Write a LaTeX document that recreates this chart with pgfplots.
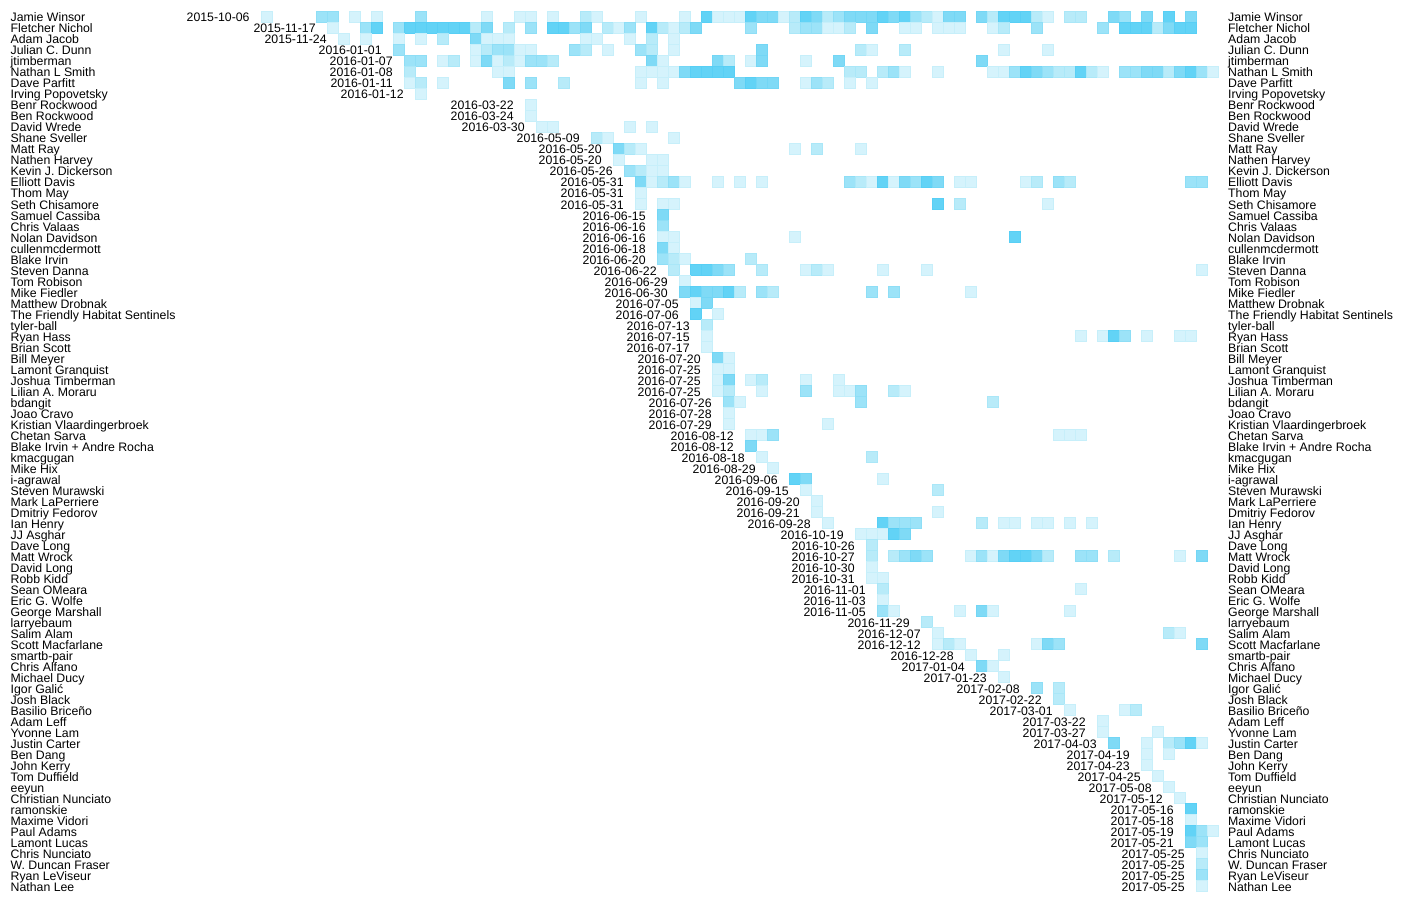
\documentclass[border=0pt]{standalone}
\usepackage{pgfplots}
\usepackage{pgfplotstable}
\pgfplotsset{compat=1.18}
\usepackage{fontspec}
\setmainfont{Liberation Sans}
\definecolor{c1}{HTML}{D5F3FC}\definecolor{b1}{HTML}{C7EFFA}
\definecolor{c2}{HTML}{B8EBF9}\definecolor{b2}{HTML}{AAE7F8}
\definecolor{c3}{HTML}{9CE3F8}\definecolor{b3}{HTML}{8EDEF6}
\definecolor{c4}{HTML}{7FDAF6}\definecolor{b4}{HTML}{73D6F5}
\definecolor{c5}{HTML}{62D3F6}\definecolor{b5}{HTML}{58CFF5}
\tikzset{lbl/.style={font=\fontsize{12.3}{14}\selectfont, inner sep=0pt, text=black}}
\newcommand\R[4]{%
  \node[lbl,anchor=base west] at (axis cs:-23.273,#1.5) {#3};
  \node[lbl,anchor=base west] at (axis cs:87.409,#1.5) {#3};
  \node[lbl,anchor=base east] at ([xshift=-16.7pt]axis cs:#2,#1.5) {#4};
}
\pgfplotstableread{
c r l
0 0 a
5 0 c
6 0 c
8 0 a
10 0 a
14 0 c
20 0 a
23 0 a
24 0 a
26 0 a
29 0 b
30 0 a
34 0 a
38 0 a
40 0 e
41 0 a
42 0 a
43 0 a
44 0 e
45 0 d
46 0 d
47 0 a
48 0 b
49 0 e
50 0 d
51 0 b
52 0 c
53 0 d
54 0 d
55 0 d
56 0 e
57 0 d
58 0 e
59 0 c
60 0 b
61 0 a
62 0 d
63 0 d
65 0 d
66 0 b
67 0 e
68 0 e
69 0 e
70 0 b
71 0 a
73 0 b
74 0 b
77 0 d
78 0 c
80 0 d
82 0 e
84 0 d
6 1 a
9 1 c
10 1 e
12 1 c
13 1 e
14 1 e
15 1 e
16 1 e
17 1 e
18 1 e
19 1 b
20 1 d
22 1 b
24 1 c
26 1 e
27 1 e
28 1 c
29 1 d
31 1 b
32 1 a
33 1 c
35 1 e
36 1 b
37 1 a
38 1 b
39 1 d
44 1 c
48 1 b
49 1 c
50 1 c
51 1 a
52 1 a
53 1 b
55 1 d
58 1 a
59 1 a
61 1 a
62 1 a
63 1 a
66 1 a
67 1 b
70 1 c
76 1 c
78 1 e
79 1 e
80 1 e
81 1 b
82 1 d
83 1 e
84 1 e
7 2 a
9 2 a
12 2 a
14 2 a
16 2 b
19 2 d
20 2 a
21 2 a
22 2 a
29 2 a
30 2 a
33 2 a
35 2 b
37 2 a
12 3 c
19 3 a
20 3 b
21 3 c
22 3 c
23 3 a
24 3 a
28 3 c
29 3 b
31 3 a
34 3 c
35 3 b
37 3 a
45 3 d
54 3 b
55 3 a
58 3 b
67 3 a
71 3 a
13 4 c
14 4 c
16 4 a
17 4 b
19 4 a
20 4 d
21 4 a
22 4 b
23 4 a
24 4 c
25 4 c
26 4 b
35 4 d
36 4 a
41 4 d
42 4 b
44 4 a
45 4 d
49 4 a
52 4 d
65 4 d
13 5 b
21 5 a
22 5 a
34 5 a
35 5 a
36 5 a
37 5 a
38 5 d
39 5 e
40 5 e
41 5 e
42 5 e
53 5 b
54 5 b
56 5 b
57 5 c
58 5 a
61 5 a
66 5 a
67 5 a
68 5 c
69 5 e
70 5 d
71 5 c
72 5 b
73 5 b
74 5 e
75 5 b
76 5 a
78 5 c
79 5 c
80 5 d
81 5 d
82 5 b
83 5 d
84 5 e
85 5 c
86 5 a
13 6 a
14 6 b
16 6 a
22 6 d
24 6 c
27 6 b
34 6 a
36 6 a
43 6 d
44 6 e
45 6 d
46 6 d
49 6 a
50 6 c
51 6 b
53 6 a
55 6 a
14 7 a
24 8 a
24 9 a
25 10 a
26 10 a
33 10 a
35 10 a
30 11 b
31 11 a
37 11 a
32 12 d
33 12 b
34 12 a
48 12 a
50 12 b
54 12 a
32 13 a
35 13 a
36 13 a
33 14 c
34 14 b
35 14 a
36 14 a
34 15 d
35 15 a
36 15 b
37 15 c
38 15 a
41 15 a
43 15 a
45 15 a
53 15 c
54 15 b
55 15 a
56 15 e
57 15 a
58 15 d
59 15 c
60 15 e
61 15 d
63 15 a
64 15 a
69 15 a
70 15 b
72 15 c
73 15 b
84 15 c
85 15 c
34 16 a
34 17 a
36 17 a
37 17 a
61 17 e
63 17 b
71 17 a
36 18 d
36 19 c
36 20 a
37 20 a
48 20 a
68 20 e
36 21 d
37 21 a
36 22 c
37 22 b
38 22 a
44 22 b
37 23 b
39 23 e
40 23 e
41 23 d
42 23 c
45 23 b
49 23 a
50 23 b
51 23 a
56 23 a
60 23 a
85 23 a
38 24 a
38 25 d
39 25 e
40 25 d
41 25 d
42 25 e
43 25 b
45 25 c
46 25 b
55 25 c
57 25 c
64 25 a
39 26 a
40 26 d
39 27 e
41 27 a
40 28 b
40 29 a
74 29 a
76 29 a
77 29 e
78 29 c
80 29 a
83 29 a
84 29 a
40 30 a
41 31 d
42 31 a
41 32 a
42 32 a
41 33 a
42 33 d
44 33 a
45 33 b
49 33 a
52 33 a
41 34 a
42 34 b
45 34 a
49 34 c
52 34 a
53 34 a
54 34 c
57 34 b
58 34 a
42 35 c
43 35 a
54 35 c
66 35 b
42 36 a
42 37 a
51 37 a
44 38 a
45 38 a
46 38 c
72 38 a
73 38 a
74 38 a
44 39 d
45 40 a
55 40 b
46 41 a
48 42 e
49 42 d
56 42 a
49 43 a
61 43 b
50 44 a
50 45 a
61 45 a
51 46 a
56 46 e
57 46 c
58 46 c
59 46 c
65 46 b
67 46 a
68 46 a
70 46 a
71 46 a
73 46 a
75 46 a
54 47 a
55 47 a
56 47 a
57 47 e
58 47 d
55 48 b
55 49 b
57 49 b
58 49 c
59 49 d
60 49 c
64 49 a
65 49 c
66 49 a
67 49 d
68 49 e
69 49 e
70 49 d
71 49 b
74 49 c
75 49 c
77 49 b
83 49 a
85 49 d
55 50 a
55 51 a
56 51 a
56 52 b
74 52 a
56 53 a
56 54 c
57 54 a
63 54 a
65 54 d
66 54 a
73 54 a
60 55 b
61 56 a
82 56 b
83 56 a
61 57 a
62 57 b
63 57 a
70 57 a
71 57 d
72 57 c
85 57 d
64 58 a
67 58 a
65 59 d
66 59 a
67 60 a
70 61 c
72 61 b
72 62 b
73 63 a
78 63 a
79 63 b
76 64 a
76 65 a
81 65 a
77 66 d
80 66 a
82 66 b
83 66 c
84 66 e
85 66 a
80 67 a
82 67 a
80 68 a
81 69 a
82 70 a
83 71 a
84 72 e
84 73 a
84 74 e
85 74 c
86 74 a
84 75 d
85 75 c
85 76 a
85 77 b
85 78 c
85 79 a
}\cells
\begin{document}
\begin{tikzpicture}
\begin{axis}[
  scale only axis, width=1404pt, height=902pt,
  xmin=-24.2273, xmax=103.4091, ymin=-1.5, ymax=80.5, y dir=reverse,
  hide axis, clip=false]
\path (axis cs:-24.2273,-1.5) rectangle (axis cs:103.4091,80.5);
\addplot[scatter, only marks, scatter src=explicit symbolic,
  mark size=5.3pt, line width=0.4pt,
  scatter/classes={
    a={mark=square*, draw=b1, fill=c1},
    b={mark=square*, draw=b2, fill=c2},
    c={mark=square*, draw=b3, fill=c3},
    d={mark=square*, draw=b4, fill=c4},
    e={mark=square*, draw=b5, fill=c5}}]
  table[x=c, y=r, meta=l] {\cells};
\R{0}{0}{Jamie Winsor}{2015-10-06}
\R{1}{6}{Fletcher Nichol}{2015-11-17}
\R{2}{7}{Adam Jacob}{2015-11-24}
\R{3}{12}{Julian C. Dunn}{2016-01-01}
\R{4}{13}{jtimberman}{2016-01-07}
\R{5}{13}{Nathan L Smith}{2016-01-08}
\R{6}{13}{Dave Parfitt}{2016-01-11}
\R{7}{14}{Irving Popovetsky}{2016-01-12}
\R{8}{24}{Benr Rockwood}{2016-03-22}
\R{9}{24}{Ben Rockwood}{2016-03-24}
\R{10}{25}{David Wrede}{2016-03-30}
\R{11}{30}{Shane Sveller}{2016-05-09}
\R{12}{32}{Matt Ray}{2016-05-20}
\R{13}{32}{Nathen Harvey}{2016-05-20}
\R{14}{33}{Kevin J. Dickerson}{2016-05-26}
\R{15}{34}{Elliott Davis}{2016-05-31}
\R{16}{34}{Thom May}{2016-05-31}
\R{17}{34}{Seth Chisamore}{2016-05-31}
\R{18}{36}{Samuel Cassiba}{2016-06-15}
\R{19}{36}{Chris Valaas}{2016-06-16}
\R{20}{36}{Nolan Davidson}{2016-06-16}
\R{21}{36}{cullenmcdermott}{2016-06-18}
\R{22}{36}{Blake Irvin}{2016-06-20}
\R{23}{37}{Steven Danna}{2016-06-22}
\R{24}{38}{Tom Robison}{2016-06-29}
\R{25}{38}{Mike Fiedler}{2016-06-30}
\R{26}{39}{Matthew Drobnak}{2016-07-05}
\R{27}{39}{The Friendly Habitat Sentinels}{2016-07-06}
\R{28}{40}{tyler-ball}{2016-07-13}
\R{29}{40}{Ryan Hass}{2016-07-15}
\R{30}{40}{Brian Scott}{2016-07-17}
\R{31}{41}{Bill Meyer}{2016-07-20}
\R{32}{41}{Lamont Granquist}{2016-07-25}
\R{33}{41}{Joshua Timberman}{2016-07-25}
\R{34}{41}{Lilian A. Moraru}{2016-07-25}
\R{35}{42}{bdangit}{2016-07-26}
\R{36}{42}{Joao Cravo}{2016-07-28}
\R{37}{42}{Kristian Vlaardingerbroek}{2016-07-29}
\R{38}{44}{Chetan Sarva}{2016-08-12}
\R{39}{44}{Blake Irvin + Andre Rocha}{2016-08-12}
\R{40}{45}{kmacgugan}{2016-08-18}
\R{41}{46}{Mike Hix}{2016-08-29}
\R{42}{48}{i-agrawal}{2016-09-06}
\R{43}{49}{Steven Murawski}{2016-09-15}
\R{44}{50}{Mark LaPerriere}{2016-09-20}
\R{45}{50}{Dmitriy Fedorov}{2016-09-21}
\R{46}{51}{Ian Henry}{2016-09-28}
\R{47}{54}{JJ Asghar}{2016-10-19}
\R{48}{55}{Dave Long}{2016-10-26}
\R{49}{55}{Matt Wrock}{2016-10-27}
\R{50}{55}{David Long}{2016-10-30}
\R{51}{55}{Robb Kidd}{2016-10-31}
\R{52}{56}{Sean OMeara}{2016-11-01}
\R{53}{56}{Eric G. Wolfe}{2016-11-03}
\R{54}{56}{George Marshall}{2016-11-05}
\R{55}{60}{larryebaum}{2016-11-29}
\R{56}{61}{Salim Alam}{2016-12-07}
\R{57}{61}{Scott Macfarlane}{2016-12-12}
\R{58}{64}{smartb-pair}{2016-12-28}
\R{59}{65}{Chris Alfano}{2017-01-04}
\R{60}{67}{Michael Ducy}{2017-01-23}
\R{61}{70}{Igor Galić}{2017-02-08}
\R{62}{72}{Josh Black}{2017-02-22}
\R{63}{73}{Basilio Briceño}{2017-03-01}
\R{64}{76}{Adam Leff}{2017-03-22}
\R{65}{76}{Yvonne Lam}{2017-03-27}
\R{66}{77}{Justin Carter}{2017-04-03}
\R{67}{80}{Ben Dang}{2017-04-19}
\R{68}{80}{John Kerry}{2017-04-23}
\R{69}{81}{Tom Duffield}{2017-04-25}
\R{70}{82}{eeyun}{2017-05-08}
\R{71}{83}{Christian Nunciato}{2017-05-12}
\R{72}{84}{ramonskie}{2017-05-16}
\R{73}{84}{Maxime Vidori}{2017-05-18}
\R{74}{84}{Paul Adams}{2017-05-19}
\R{75}{84}{Lamont Lucas}{2017-05-21}
\R{76}{85}{Chris Nunciato}{2017-05-25}
\R{77}{85}{W. Duncan Fraser}{2017-05-25}
\R{78}{85}{Ryan LeViseur}{2017-05-25}
\R{79}{85}{Nathan Lee}{2017-05-25}
\end{axis}
\end{tikzpicture}
\end{document}
